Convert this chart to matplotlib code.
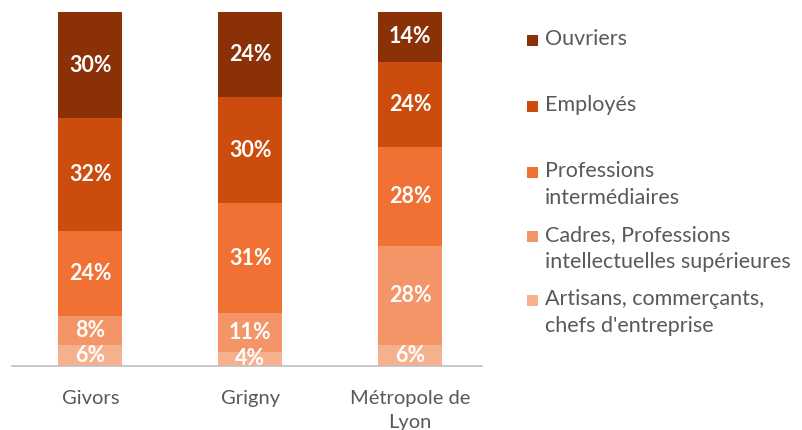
import matplotlib
matplotlib.use("Agg")
import matplotlib.pyplot as plt
from matplotlib.patches import Rectangle

# data (share of each category, %)
territoires = ["Givors", "Grigny", "Métropole de\nLyon"]
categories = [
    "Artisans, commerçants,\nchefs d'entreprise",
    "Cadres, Professions\nintellectuelles supérieures",
    "Professions\nintermédiaires",
    "Employés",
    "Ouvriers",
]
artisans = [6, 4, 6]
cadres = [8, 11, 28]
prof_inter = [24, 31, 28]
employes = [32, 30, 24]
ouvriers = [30, 24, 14]
series = [artisans, cadres, prof_inter, employes, ouvriers]
couleurs = ["#F6B08C", "#F39566", "#F07133", "#CC4C0E", "#8A3108"]

plt.rcParams["font.family"] = ["Lato", "DejaVu Sans"]

fig = plt.figure(figsize=(8.02, 4.30), dpi=100)
ax = fig.add_axes([12 / 802, 64 / 430, 470 / 802, 354 / 430])

x = list(range(len(territoires)))
bottom = [0] * len(territoires)
for vals, col in zip(series, couleurs):
    ax.bar(x, vals, bottom=bottom, width=0.4, color=col, linewidth=0)
    for xi, b, v in zip(x, bottom, vals):
        ax.text(xi, b + v / 2, f"{v}%", ha="center", va="center",
                color="white", fontsize=15.5, fontweight="bold", clip_on=True)
    bottom = [b + v for b, v in zip(bottom, vals)]

ax.set_xlim(-0.49, 2.45)
ax.set_ylim(0, 100)
for s in ["top", "right", "left"]:
    ax.spines[s].set_visible(False)
ax.spines["bottom"].set_color("#BFBFBF")
ax.spines["bottom"].set_linewidth(1.2)
ax.set_yticks([])
ax.set_xticks(x)
ax.set_xticklabels(territoires, fontsize=14.5, color="#595959", linespacing=1.5)
ax.tick_params(axis="x", length=0, pad=17)

# legend drawn by hand (top entry = Ouvriers)
leg_y = [40, 106, 172, 236, 300]
for cat, col, y in zip(categories[::-1], couleurs[::-1], leg_y):
    fig.add_artist(Rectangle((527 / 802, 1 - (y + 6) / 430), 11 / 802, 11 / 430,
                             transform=fig.transFigure, color=col, lw=0))
    fig.text(545 / 802, 1 - (y - 11) / 430, cat, ha="left", va="top",
             fontsize=15.5, color="#595959", linespacing=1.45)

fig.savefig("out.png", dpi=100)
